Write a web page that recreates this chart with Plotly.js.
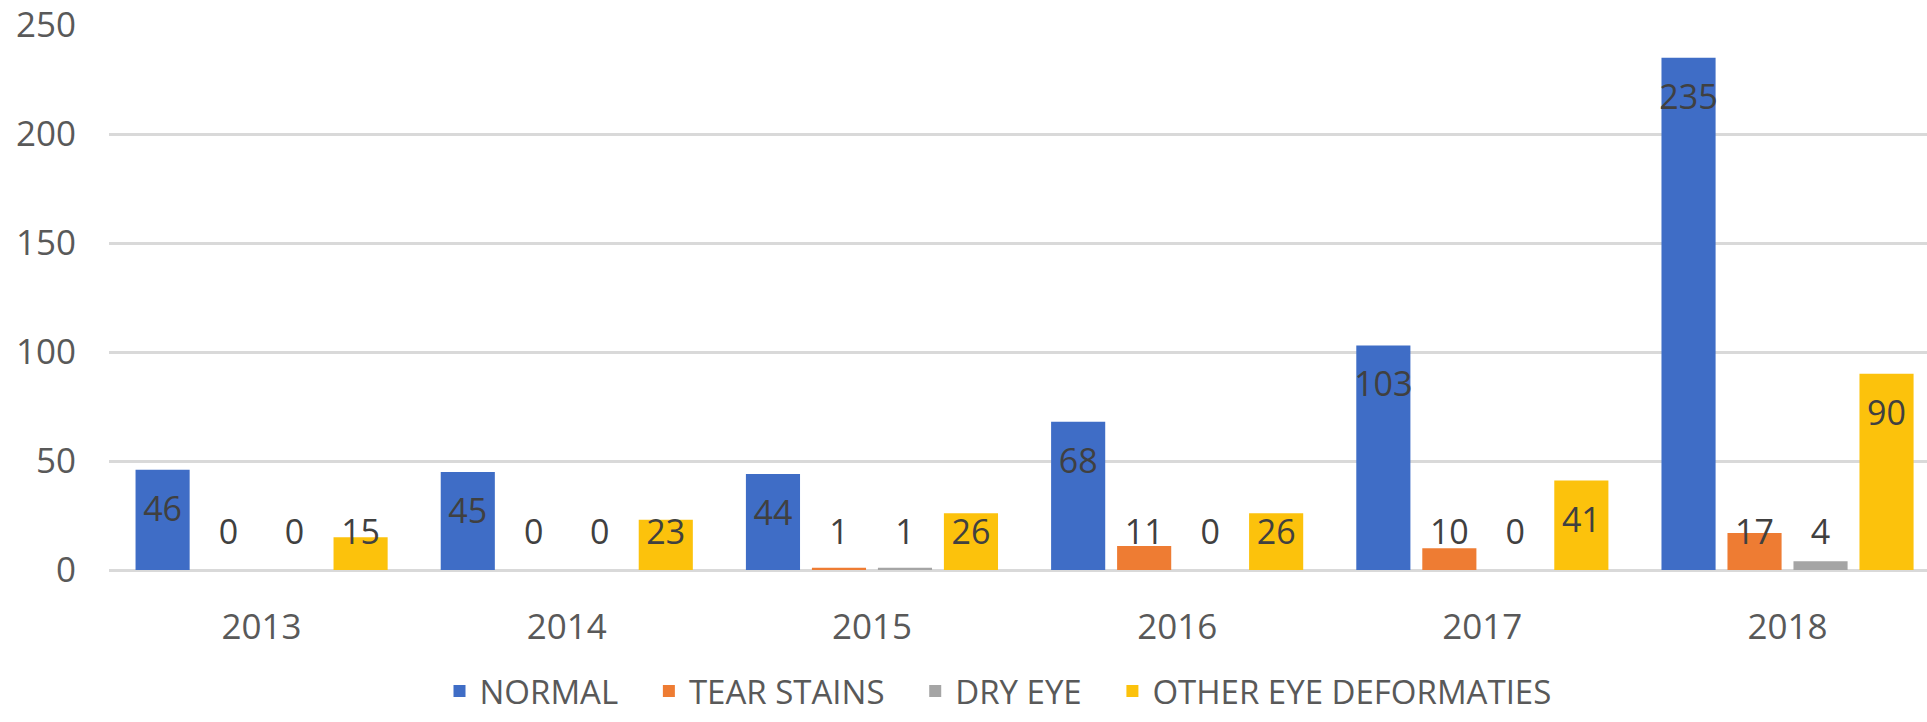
<!DOCTYPE html>
<html>
<head>
<meta charset="utf-8">
<script src="https://cdn.plot.ly/plotly-3.0.1.min.js"></script>
<style>
  html, body { margin: 0; padding: 0; background: #fff; }
  #chart { width: 1927px; height: 722px; }
</style>
</head>
<body>
<div id="chart"></div>
<script>
// chart data
const years = ['2013', '2014', '2015', '2016', '2017', '2018'];
const seriesNames = ['NORMAL', 'TEAR STAINS', 'DRY EYE', 'OTHER EYE DEFORMATIES'];
const normal = [46, 45, 44, 68, 103, 235];
const tearStains = [0, 0, 1, 11, 10, 17];
const dryEye = [0, 0, 1, 0, 0, 4];
const otherDeform = [15, 23, 26, 26, 41, 90];
const yTicks = [0, 50, 100, 150, 200, 250];

const colors = ['#3f6dc6', '#ee7c33', '#a5a5a5', '#fcc20c'];
const allSeries = [normal, tearStains, dryEye, otherDeform];

const fontFam = '"Open Sans", "Noto Sans", sans-serif';
const barGap = 0.135;
const groupGap = 0.18;
const xIdx = years.map((y, i) => i);
const pad = '\u00a0\u00a0\u00a0'; // a bit more room between legend entries

const traces = [];
allSeries.forEach((vals, j) => {
    traces.push({
        type: 'bar',
        name: seriesNames[j] + (j < allSeries.length - 1 ? pad : ''),
        x: xIdx,
        y: vals,
        marker: { color: colors[j] },
        hoverinfo: 'name+y'
    });
});

// value labels, sitting inside the bar top (or just above the base for short bars)
const slot = (1 - barGap) / allSeries.length;
allSeries.forEach((vals, j) => {
    traces.push({
        type: 'scatter',
        mode: 'text',
        showlegend: false,
        hoverinfo: 'skip',
        x: xIdx.map(i => i + (j - 1.5) * slot),
        y: vals.map(v => Math.max(v - 19.5, 16)),
        text: vals.map(String),
        textposition: 'middle center',
        textfont: { family: fontFam, size: 34, color: '#404040' }
    });
});

const layout = {
    width: 1927,
    height: 722,
    margin: { l: 109, r: 0, t: 25, b: 152, autoexpand: false },
    paper_bgcolor: '#ffffff',
    plot_bgcolor: '#ffffff',
    barmode: 'group',
    bargap: barGap,
    bargroupgap: groupGap,
    font: { family: fontFam, color: '#595959' },
    xaxis: {
        type: 'linear',
        range: [-0.5, 5.457],
        tickmode: 'array',
        tickvals: xIdx,
        ticktext: years,
        showgrid: false,
        zeroline: false,
        showline: false,
        ticks: '',
        ticklabelstandoff: 33,
        tickfont: { family: fontFam, size: 35, color: '#595959' }
    },
    yaxis: {
        range: [0, 250],
        tickmode: 'array',
        tickvals: yTicks,
        showgrid: true,
        gridcolor: '#d9d9d9',
        gridwidth: 3,
        zeroline: true,
        zerolinecolor: '#d9d9d9',
        zerolinewidth: 3,
        showline: false,
        ticks: '',
        ticklabelstandoff: 32,
        tickfont: { family: fontFam, size: 35, color: '#595959' }
    },
    legend: {
        orientation: 'h',
        x: 0.489,
        xanchor: 'center',
        y: -0.222,
        yanchor: 'middle',
        font: { family: fontFam, size: 33, color: '#595959' },
        itemsizing: 'constant'
    },
    showlegend: true
};

Plotly.newPlot('chart', traces, layout, { displayModeBar: false, staticPlot: true });
</script>
</body>
</html>
